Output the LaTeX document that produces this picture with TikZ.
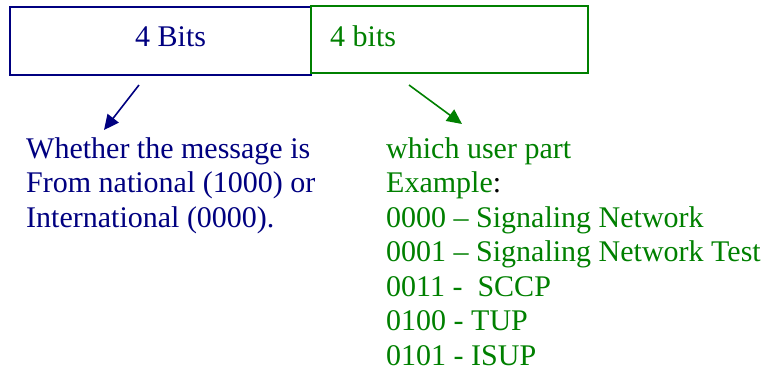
\documentclass[tikz,border=0pt]{standalone}
\usepackage{fontspec}
\setmainfont{Liberation Serif}
\usetikzlibrary{arrows.meta}
\definecolor{navyblue}{HTML}{000080}
\definecolor{fieldgreen}{HTML}{008000}
\tikzset{
  fieldbox/.style={draw, line width=2pt, inner sep=0pt},
  fieldtext/.style={inner sep=0pt, anchor=base west, font=\fontsize{30}{34.5}\selectfont},
  textblock/.style={inner sep=0pt, anchor=north west, align=left, font=\fontsize{30}{34.5}\selectfont},
  pointer/.style={line width=1.6pt, -{Triangle[length=15pt,width=14pt]}}
}
\begin{document}
\begin{tikzpicture}[x=1pt,y=-1pt]
  \useasboundingbox (0,0) rectangle (767,370);
  % the two 4-bit fields of the service information octet
  \draw[fieldbox, navyblue] (10,7) rectangle (311,75);
  \draw[fieldbox, fieldgreen] (311,6) rectangle (588,73);
  \node[fieldtext, text=navyblue] (ni) at (135,46) {4 Bits};
  \node[fieldtext, text=fieldgreen] (si) at (330,46) {4 bits};
  % explanations
  \node[textblock, text=navyblue] (nidesc) at (26,137)
    {Whether the message is\\From national (1000) or\\International (0000).};
  \node[textblock, text=fieldgreen] (sidesc) at (386,137)
    {which user part\\Example{\color{black}:}\\0000 -- Signaling Network\\0001 -- Signaling Network Test\\0011 -\ \ SCCP\\0100 - TUP\\0101 - ISUP};
  % pointers from the fields to their meanings
  \coordinate (nistart) at (139,85);
  \coordinate (niend) at (104,130);
  \coordinate (sistart) at (409,85);
  \coordinate (siend) at (462,124);
  \draw[pointer, navyblue] (nistart) -- (niend);
  \draw[pointer, fieldgreen] (sistart) -- (siend);
\end{tikzpicture}
\end{document}
